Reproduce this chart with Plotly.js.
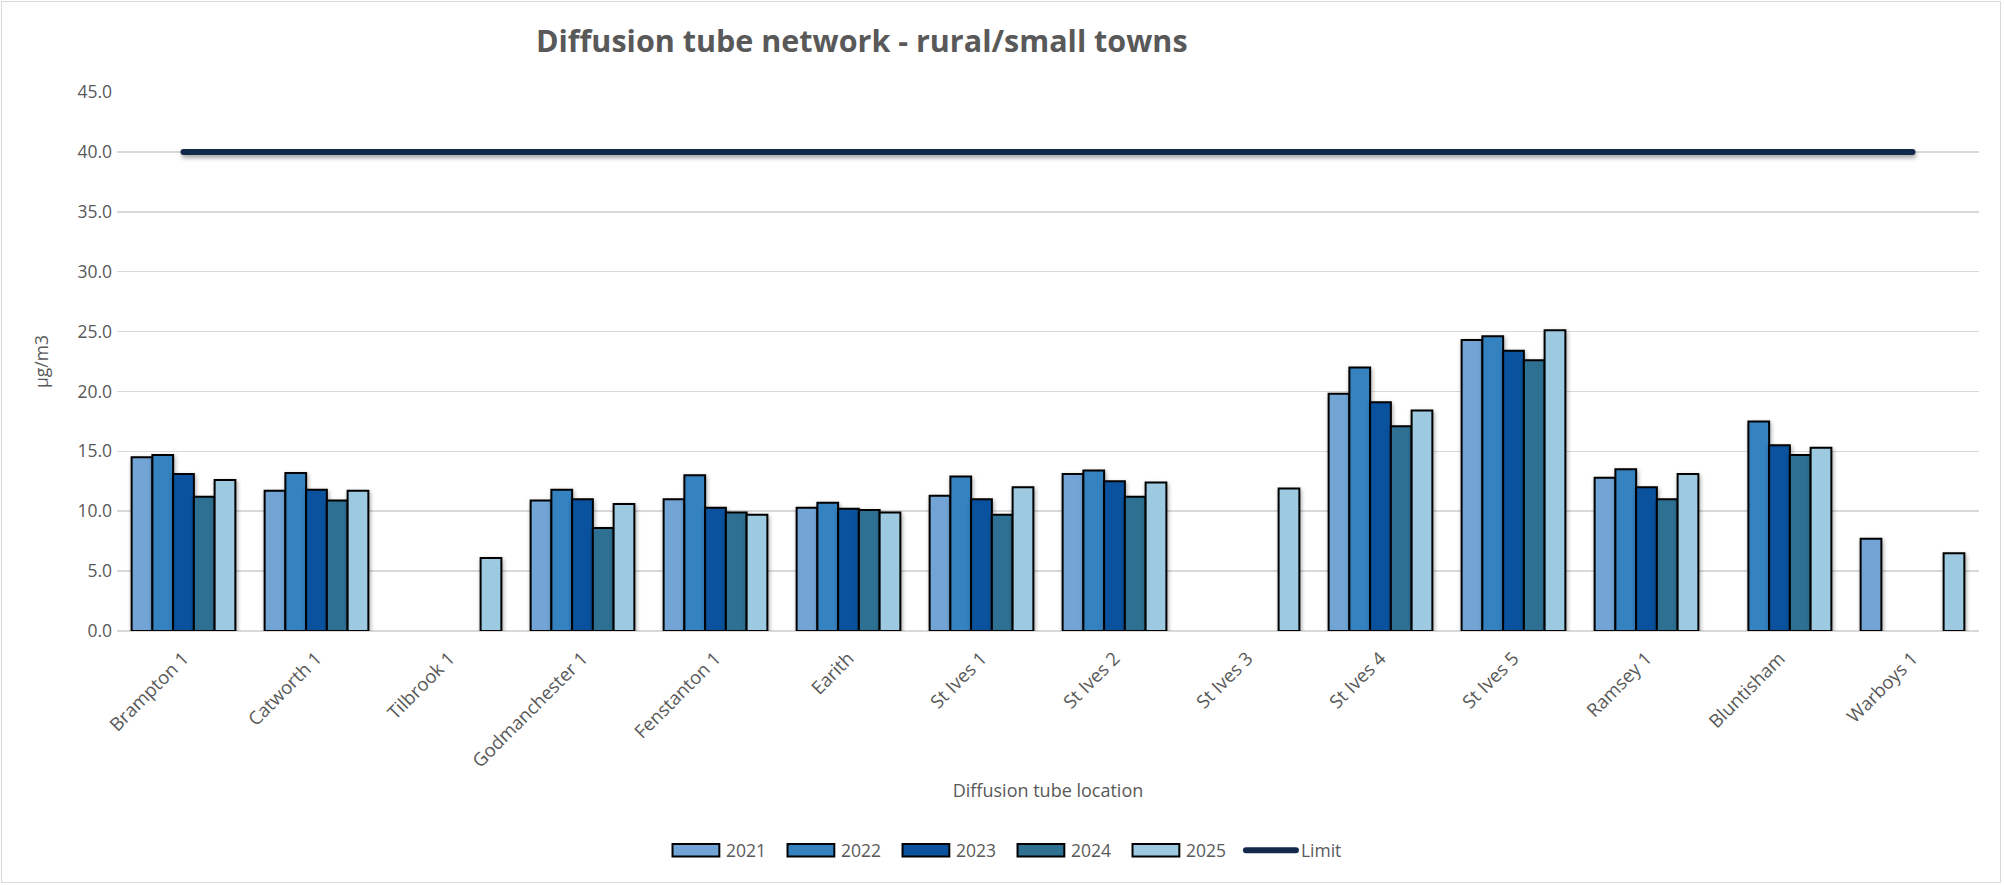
<!DOCTYPE html>
<html>
<head>
<meta charset="utf-8">
<script src="https://cdn.plot.ly/plotly-3.0.1.min.js"></script>
<style>
  html, body { margin: 0; padding: 0; background: #ffffff; }
  #wrap { position: relative; width: 2004px; height: 885px; }
  #chart { position: absolute; left: 0; top: 0; width: 2004px; height: 885px; }
  #frame { position: absolute; left: 1px; top: 1px; right: 3px; bottom: 2px;
           border: 1.5px solid #d9d9d9; pointer-events: none; z-index: 10; }
  #chart .barlayer .point path { filter: drop-shadow(1px 2px 2px rgba(0,0,0,0.35)); }
  #chart .scatterlayer .js-line { stroke-linecap: round; filter: drop-shadow(1px 3px 2px rgba(0,0,0,0.35)); }
  /* wide rectangular legend swatches for the bar series */
  #chart .legend .legendpoints path { transform: translate(30px, 0px) scale(3.9, 1.05) !important; vector-effect: non-scaling-stroke; }
  #chart .legend .legendlines path { stroke-linecap: round; }
</style>
</head>
<body>
<div id="wrap">
  <div id="chart"></div>
  <div id="frame"></div>
</div>
<script>
// Annual mean NO2 at each diffusion tube site (µg/m3); null = no reading that year
const locations = ['Brampton 1', 'Catworth 1', 'Tilbrook 1', 'Godmanchester 1', 'Fenstanton 1', 'Earith',
                   'St Ives 1', 'St Ives 2', 'St Ives 3', 'St Ives 4', 'St Ives 5', 'Ramsey 1', 'Bluntisham', 'Warboys 1'];
const years = ['2021', '2022', '2023', '2024', '2025'];
const y2021 = [14.5, 11.7, null, 10.9, 11.0, 10.3, 11.3, 13.1, null, 19.8, 24.3, 12.8, null, 7.7];
const y2022 = [14.7, 13.2, null, 11.8, 13.0, 10.7, 12.9, 13.4, null, 22.0, 24.6, 13.5, 17.5, null];
const y2023 = [13.1, 11.8, null, 11.0, 10.3, 10.2, 11.0, 12.5, null, 19.1, 23.4, 12.0, 15.5, null];
const y2024 = [11.2, 10.9, null, 8.6, 9.9, 10.1, 9.7, 11.2, null, 17.1, 22.6, 11.0, 14.7, null];
const y2025 = [12.6, 11.7, 6.1, 10.6, 9.7, 9.9, 12.0, 12.4, 11.9, 18.4, 25.1, 13.1, 15.3, 6.5];
// Annual mean objective
const limit = [40, 40, 40, 40, 40, 40, 40, 40, 40, 40, 40, 40, 40, 40];

const seriesValues = [y2021, y2022, y2023, y2024, y2025];
const barColors = ['#72a5d6', '#3482c0', '#0a529e', '#2e7092', '#9ecae1'];

const grey = '#595959';
const fontFamily = '"Open Sans", "Liberation Sans", sans-serif';

const traces = years.map((yr, i) => ({
  type: 'bar',
  name: yr,
  x: locations,
  y: seriesValues[i],
  marker: { color: barColors[i], line: { color: '#000000', width: 2 } },
  hoverinfo: 'x+y+name'
}));

traces.push({
  type: 'scatter',
  mode: 'lines',
  name: 'Limit',
  x: locations,
  y: limit,
  line: { color: '#13294b', width: 6 }
});

const layout = {
  width: 2004,
  height: 885,
  margin: { l: 117, r: 25, t: 92, b: 254 },
  paper_bgcolor: '#ffffff',
  plot_bgcolor: '#ffffff',
  font: { family: fontFamily, color: grey, size: 17 },
  title: {
    text: '<b>Diffusion tube network - rural/small towns</b>',
    font: { family: fontFamily, size: 30.5, color: grey },
    x: 0.43, xref: 'container', xanchor: 'center',
    y: 0.953, yref: 'container', yanchor: 'middle'
  },
  barmode: 'group',
  bargap: 0.22,
  bargroupgap: 0,
  xaxis: {
    type: 'category',
    range: [-0.5, 13.5],
    tickangle: -45,
    showgrid: false,
    showline: false,
    ticks: '',
    ticklabelstandoff: 12,
    tickfont: { family: fontFamily, size: 18.5, color: grey },
    title: {
      text: 'Diffusion tube location',
      font: { family: fontFamily, size: 18, color: grey },
      standoff: 13
    },
    automargin: false
  },
  yaxis: {
    range: [0, 45],
    dtick: 5,
    tick0: 0,
    tickformat: '.1f',
    showgrid: true,
    gridcolor: '#d9d9d9',
    gridwidth: 1.5,
    zeroline: true,
    zerolinecolor: '#d9d9d9',
    zerolinewidth: 2,
    showline: false,
    ticks: '',
    ticklabelstandoff: 4,
    tickfont: { family: fontFamily, size: 17.5, color: grey },
    title: {
      text: 'µg/m3',
      font: { family: fontFamily, size: 17.5, color: grey },
      standoff: 24
    },
    automargin: false
  },
  legend: {
    orientation: 'h',
    x: 0.2948, xanchor: 'left',
    y: -0.407, yanchor: 'middle',
    itemwidth: 50,
    entrywidth: 50,
    entrywidthmode: 'pixels',
    font: { family: fontFamily, size: 17.5, color: grey },
    traceorder: 'normal'
  },
  showlegend: true
};

Plotly.newPlot('chart', traces, layout, { displayModeBar: false, staticPlot: true });
</script>
</body>
</html>
